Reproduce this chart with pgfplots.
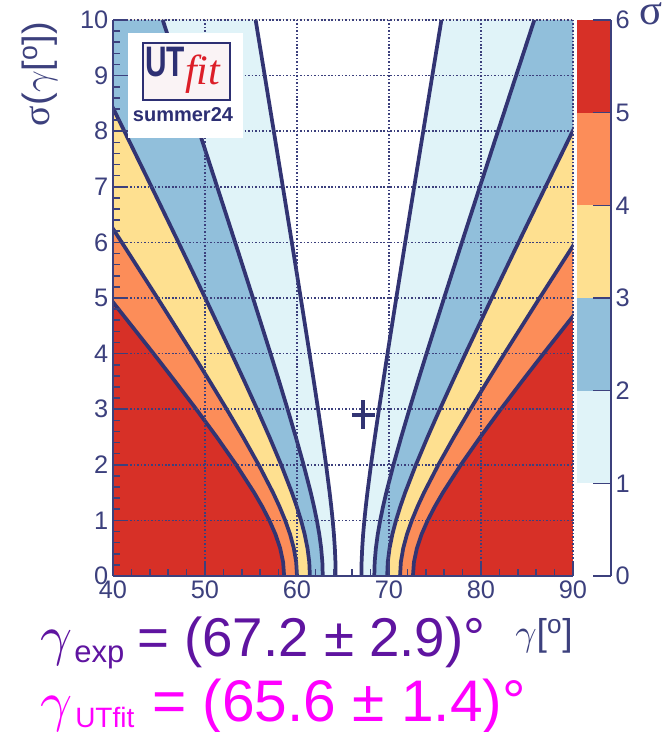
\documentclass[border=0pt]{standalone}
\usepackage{fontspec}
\setmainfont{Liberation Sans}
\newfontfamily\serif{Liberation Serif}
\usepackage{graphicx}
\usepackage{pgfplots}
\usepackage{pgfplotstable}
\pgfplotsset{compat=1.18}
\newcommand\bgamma[1]{{\fontsize{10}{10}\selectfont\scalebox{#1}{$\gamma$}}}
\definecolor{cRed}{RGB}{215,48,39}
\definecolor{cOra}{RGB}{252,141,89}
\definecolor{cYel}{RGB}{254,224,144}
\definecolor{cMbl}{RGB}{145,191,219}
\definecolor{cLbl}{RGB}{224,243,248}
\definecolor{cLine}{RGB}{50,52,115}
\definecolor{cAx}{RGB}{60,64,125}
\definecolor{cPur}{RGB}{95,20,160}
\definecolor{cMag}{RGB}{255,0,255}
\definecolor{cLogo}{RGB}{45,47,115}
\definecolor{cFit}{RGB}{220,30,40}
% contour boundaries: gamma at which the compatibility reaches n sigma, for sigma(gamma)=s
\pgfplotstableread{
s L1 R1 L2 R2 L3 R3 L4 R4 L5 R5
0 64.200 67.000 62.800 68.400 61.400 69.800 60.000 71.200 58.600 72.600
0.25 64.178 67.022 62.756 68.444 61.334 69.866 59.912 71.288 58.490 72.711
0.5 64.113 67.087 62.627 68.573 61.140 70.060 59.654 71.546 58.167 73.033
0.75 64.012 67.188 62.424 68.776 60.835 70.365 59.247 71.953 57.659 73.541
1 63.880 67.321 62.159 69.041 60.439 70.762 58.718 72.482 56.998 74.203
1.25 63.723 67.477 61.846 69.354 59.970 71.230 58.093 73.107 56.216 74.984
1.5 63.548 67.652 61.496 69.704 59.445 71.755 57.393 73.807 55.341 75.859
2 63.159 68.041 60.717 70.483 58.276 72.924 55.835 75.365 53.394 77.807
2.5 62.735 68.465 59.869 71.331 57.004 74.196 54.139 77.061 51.274 79.927
3 62.289 68.911 58.979 72.221 55.668 75.532 52.358 78.842 49.047 82.153
3.5 61.830 69.370 58.061 73.139 54.291 76.909 50.522 80.678 46.752 84.448
4 61.362 69.838 57.124 74.076 52.886 78.314 48.648 82.552 44.411 86.790
5 60.408 70.792 55.215 75.985 50.023 81.177 44.831 86.369 39.639 91.562
6 59.439 71.761 53.278 77.922 47.116 84.084 40.955 90.245 34.794 96.406
7 58.461 72.739 51.323 79.877 44.184 87.016 37.046 94.154 29.907 101.293
8 57.478 73.722 49.357 81.843 41.235 89.965 33.114 98.086 24.992 106.208
9 56.492 74.708 47.384 83.816 38.275 92.925 29.167 102.033 20.059 111.141
10 55.503 75.698 45.405 85.795 35.308 95.893 25.210 105.990 15.113 116.088
}\contours
% closed regions (left edge upwards, right edge downwards)
\pgfplotstableread{
y P1 P2 P3 P4 P5
0 64.200 62.800 61.400 60.000 58.600
0.25 64.178 62.756 61.334 59.912 58.490
0.5 64.113 62.627 61.140 59.654 58.167
0.75 64.012 62.424 60.835 59.247 57.659
1 63.880 62.159 60.439 58.718 56.998
1.25 63.723 61.846 59.970 58.093 56.216
1.5 63.548 61.496 59.445 57.393 55.341
2 63.159 60.717 58.276 55.835 53.394
2.5 62.735 59.869 57.004 54.139 51.274
3 62.289 58.979 55.668 52.358 49.047
3.5 61.830 58.061 54.291 50.522 46.752
4 61.362 57.124 52.886 48.648 44.411
5 60.408 55.215 50.023 44.831 39.639
6 59.439 53.278 47.116 40.955 34.794
7 58.461 51.323 44.184 37.046 29.907
8 57.478 49.357 41.235 33.114 24.992
9 56.492 47.384 38.275 29.167 20.059
10 55.503 45.405 35.308 25.210 15.113
10 75.698 85.795 95.893 105.990 116.088
9 74.708 83.816 92.925 102.033 111.141
8 73.722 81.843 89.965 98.086 106.208
7 72.739 79.877 87.016 94.154 101.293
6 71.761 77.922 84.084 90.245 96.406
5 70.792 75.985 81.177 86.369 91.562
4 69.838 74.076 78.314 82.552 86.790
3.5 69.370 73.139 76.909 80.678 84.448
3 68.911 72.221 75.532 78.842 82.153
2.5 68.465 71.331 74.196 77.061 79.927
2 68.041 70.483 72.924 75.365 77.807
1.5 67.652 69.704 71.755 73.807 75.859
1.25 67.477 69.354 71.230 73.107 74.984
1 67.321 69.041 70.762 72.482 74.203
0.75 67.188 68.776 70.365 71.953 73.541
0.5 67.087 68.573 70.060 71.546 73.033
0.25 67.022 68.444 69.866 71.288 72.711
0 67.000 68.400 69.800 71.200 72.600
}\regions
\begin{document}
\begin{tikzpicture}
\begin{axis}[
  at={(84.75pt,117pt)}, anchor=south west, scale only axis,
  width=345pt, height=417pt,
  xmin=40, xmax=90, ymin=0, ymax=10,
  axis lines=left, axis line style={-, cAx, line width=1.5pt},
  xtick={40,50,...,90}, ytick={0,1,...,10},
  minor x tick num=4, minor y tick num=4,
  tick align=inside, major tick length=11pt, minor tick length=5.5pt,
  tick style={cAx, line width=1.2pt},
  grid=major, grid style={cAx, line width=1.1pt, dash pattern=on 1.2pt off 1.4pt},
  axis on top,
  ticklabel style={font=\fontsize{19}{19}\selectfont, text=cAx},
  /pgf/number format/assume math mode=true,
]
\addplot[fill=cRed, draw=none] coordinates {(40,0) (90,0) (90,10) (40,10)} --cycle;
\addplot[fill=cOra, draw=none] table[x=P5,y=y]{\regions} --cycle;
\addplot[fill=cYel, draw=none] table[x=P4,y=y]{\regions} --cycle;
\addplot[fill=cMbl, draw=none] table[x=P3,y=y]{\regions} --cycle;
\addplot[fill=cLbl, draw=none] table[x=P2,y=y]{\regions} --cycle;
\addplot[fill=white, draw=none] table[x=P1,y=y]{\regions} --cycle;
\addplot[cLine, line width=2.8pt] table[x=L5,y=s]{\contours};
\addplot[cLine, line width=2.8pt] table[x=R5,y=s]{\contours};
\addplot[cLine, line width=2.8pt] table[x=L4,y=s]{\contours};
\addplot[cLine, line width=2.8pt] table[x=R4,y=s]{\contours};
\addplot[cLine, line width=2.8pt] table[x=L3,y=s]{\contours};
\addplot[cLine, line width=2.8pt] table[x=R3,y=s]{\contours};
\addplot[cLine, line width=2.8pt] table[x=L2,y=s]{\contours};
\addplot[cLine, line width=2.8pt] table[x=R2,y=s]{\contours};
\addplot[cLine, line width=2.8pt] table[x=L1,y=s]{\contours};
\addplot[cLine, line width=2.8pt] table[x=R1,y=s]{\contours};
\addplot[only marks, mark=+, mark size=10.9pt, cLine, mark options={xscale=0.79, line width=3pt}] coordinates {(67.2,2.9)};
\end{axis}
\begin{axis}[
  at={(432.75pt,117pt)}, anchor=south west, scale only axis,
  width=25.5pt, height=417pt,
  xmin=0, xmax=1, ymin=0, ymax=6,
  axis x line=none, axis y line=right,
  axis line style={-, cAx, line width=1.5pt},
  ytick={0,1,...,6},
  tick align=inside, major tick length=13.5pt,
  tick style={cAx, line width=1.2pt},
  axis on top,
  ticklabel style={font=\fontsize{19}{19}\selectfont, text=cAx},
  /pgf/number format/assume math mode=true,
]
\addplot[fill=white, draw=none] coordinates {(0,0) (1,0) (1,1) (0,1)} --cycle;
\addplot[fill=cLbl, draw=none] coordinates {(0,1) (1,1) (1,2) (0,2)} --cycle;
\addplot[fill=cMbl, draw=none] coordinates {(0,2) (1,2) (1,3) (0,3)} --cycle;
\addplot[fill=cYel, draw=none] coordinates {(0,3) (1,3) (1,4) (0,4)} --cycle;
\addplot[fill=cOra, draw=none] coordinates {(0,4) (1,4) (1,5) (0,5)} --cycle;
\addplot[fill=cRed, draw=none] coordinates {(0,5) (1,5) (1,6) (0,6)} --cycle;
\end{axis}
\begin{scope}[x=0.75pt,y=0.75pt]
% logo
\fill[white] (128,594) rectangle (243,699);
\filldraw[fill={rgb,255:red,250;green,243;blue,245}, draw=cLogo, line width=1.9pt] (143,632) rectangle (230,689);
\node[anchor=base west, inner sep=0pt, text=cLogo, font=\bfseries\fontsize{32}{32}\selectfont, xscale=0.7] at (145,655) {UT};
\node[anchor=base west, inner sep=0pt, text=cFit, font=\serif\itshape\fontsize{31.5}{31.5}\selectfont] at (185,647) {fit};
\node[anchor=base, inner sep=0pt, text=cLogo, font=\bfseries\fontsize{15}{15}\selectfont] at (183,610) {summer24};
% axis titles
\node[rotate=90, inner sep=0pt, text=cAx, font=\fontsize{28.5}{28.5}\selectfont] at (40,658) {{\serif σ}(\bgamma{2.85}[\textsuperscript{o}])};
\node[inner sep=0pt, text=cAx, font=\fontsize{28}{28}\selectfont] at (544,96) {\bgamma{2.8}[\textsuperscript{o}]};
\node[anchor=base, inner sep=0pt, text=cAx, font=\serif\fontsize{32}{32}\selectfont] at (651,707) {σ};
% bottom texts
\node[anchor=base west, inner sep=0pt, text=cPur] at (40,77) {\bgamma{4.2}};
\node[anchor=base west, inner sep=0pt, text=cPur, font=\fontsize{23.25}{24}\selectfont] at (74,69) {exp};
\node[anchor=base west, inner sep=0pt, text=cPur, font=\fontsize{41}{41}\selectfont] at (137,75) {= (67.2 ± 2.9)°};
\node[anchor=base west, inner sep=0pt, text=cMag] at (40,12) {\bgamma{4.2}};
\node[anchor=base west, inner sep=0pt, text=cMag, font=\fontsize{21}{21}\selectfont] at (75,4) {UTfit};
\node[anchor=base west, inner sep=0pt, text=cMag, font=\fontsize{44}{44}\selectfont] at (152,10) {= (65.6 ± 1.4)°};
\end{scope}
\pgfresetboundingbox
\useasboundingbox (0,0) rectangle (501.75pt,549pt);
\end{tikzpicture}
\end{document}
